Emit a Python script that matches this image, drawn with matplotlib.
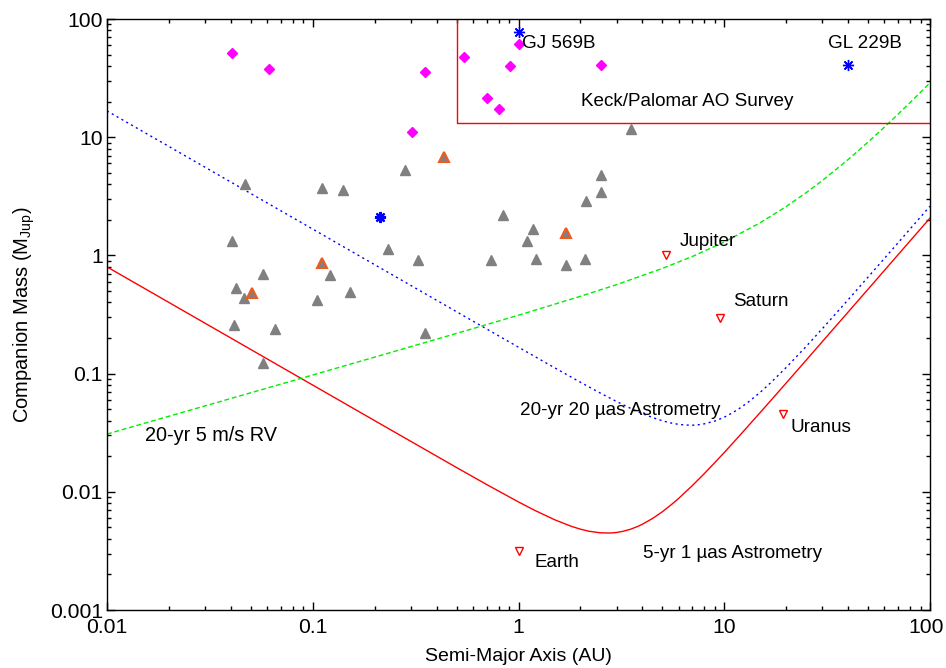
import matplotlib
matplotlib.use("Agg")
import matplotlib.pyplot as plt
from matplotlib.ticker import FixedLocator, FixedFormatter, LogLocator, NullFormatter
from matplotlib.transforms import ScaledTranslation

plt.rcParams["font.family"] = ["Liberation Sans", "DejaVu Sans"]
plt.rcParams["mathtext.fontset"] = "custom"
plt.rcParams["mathtext.rm"] = "Liberation Sans"
plt.rcParams["mathtext.it"] = "Liberation Sans:italic"

# ---- Known companions -------------------------------------------------
# Brown-dwarf companions (magenta diamonds)
bd_a = [0.0405, 0.061, 0.352, 0.303, 0.543, 0.705, 0.807, 0.906, 1.0, 2.52]
bd_m = [51.3, 38.0, 35.8, 11.1, 47.4, 21.5, 17.4, 40.0, 61.8, 41.0]

# RV planets (grey triangles)
rv_a = [3.52, 0.28, 2.52, 2.52, 2.13, 0.838, 1.17, 1.10, 0.232, 0.324,
        0.735, 1.21, 1.70, 2.10, 0.0469, 0.111, 0.141, 0.0405, 0.121,
        0.0575, 0.0423, 0.0465, 0.152, 0.105, 0.0414, 0.0658, 0.0575, 0.352]
rv_m = [11.8, 5.25, 4.77, 3.42, 2.9, 2.18, 1.68, 1.32, 1.13, 0.914,
        0.91, 0.93, 0.834, 0.93, 4.02, 3.72, 3.55, 1.32, 0.687,
        0.70, 0.533, 0.434, 0.49, 0.42, 0.256, 0.237, 0.123, 0.22]

# Planets in multiple systems (grey triangles with orange outline)
multi_a = [0.433, 0.111, 0.0505, 1.71]
multi_m = [6.8, 0.863, 0.478, 1.54]

# Imaged companions (blue asterisks)
star_a = [1.0, 40.0]
star_m = [77.0, 40.8]
star_names = ["GJ 569B", "GL 229B"]
close_a = [0.213]
close_m = [2.12]

# Solar-system planets
sol_names = ["Earth", "Jupiter", "Saturn", "Uranus"]
sol_a = [1.0, 5.2, 9.5, 19.2]
sol_m = [0.00315, 1.0, 0.295, 0.0455]

# AO survey region
ao_a = [0.5, 0.5, 100.0]
ao_m = [100.0, 13.3, 13.3]

# ---- Detection limits -------------------------------------------------
ast1_a = [0.01, 0.02, 0.05, 0.1, 0.2, 0.5, 0.7, 1.0, 1.2, 1.5, 1.8, 2.0,
          2.2, 2.5, 2.8, 3.0, 3.2, 3.5, 3.8, 4.0, 4.5, 5.0, 5.5, 6.0, 7.0,
          8.0, 9.0, 10.0, 12.0, 15.0, 17.0, 20.0, 25.0, 30.0, 40.0, 50.0,
          60.0, 70.0, 85.0, 100.0]
ast1_m = [0.8, 0.4, 0.16, 0.08, 0.04, 0.01605, 0.01153, 0.00821, 0.006965,
          0.0058, 0.005116, 0.00483, 0.004639, 0.0045, 0.004482, 0.00453,
          0.004622, 0.00482, 0.005098, 0.00532, 0.005975, 0.00678, 0.007724,
          0.00879, 0.0113, 0.01426, 0.01768, 0.0215, 0.03051, 0.0472,
          0.06037, 0.0833, 0.1299, 0.187, 0.3318, 0.518, 0.7462, 1.016,
          1.4975, 2.07]

ast20_a = [0.01, 0.02, 0.05, 0.1, 0.2, 0.5, 1.0, 1.5, 2.0, 2.5, 3.0, 3.5,
           4.0, 4.5, 5.0, 5.5, 6.0, 6.5, 7.0, 7.5, 8.0, 9.0, 10.0, 11.0,
           12.0, 13.0, 15.0, 17.0, 20.0, 25.0, 30.0, 40.0, 50.0, 60.0, 70.0,
           85.0, 100.0]
ast20_m = [16.7, 8.35, 3.34, 1.67, 0.835, 0.334, 0.1673, 0.1119, 0.0845,
           0.06843, 0.058, 0.05091, 0.0459, 0.0424, 0.0399, 0.03826, 0.0372,
           0.03672, 0.0366, 0.03694, 0.0376, 0.03969, 0.0428, 0.04676,
           0.0515, 0.05694, 0.0698, 0.08524, 0.1127, 0.1698, 0.2404, 0.4217,
           0.656, 0.9423, 1.281, 1.8892, 2.611]

rv5_a = [0.01, 0.02, 0.05, 0.1, 0.2, 0.5, 1.0, 2.0, 3.0, 5.0, 7.0, 10.0,
         15.0, 20.0, 25.0, 30.0, 40.0, 50.0, 60.0, 70.0, 85.0, 100.0]
rv5_m = [0.0308, 0.0436, 0.0689, 0.0974, 0.1379, 0.2189, 0.312, 0.451,
         0.5665, 0.7757, 0.980, 1.299, 1.896, 2.591, 3.394, 4.308, 6.473,
         9.10, 12.17, 15.69, 21.80, 28.9]

x_ticks = [0.01, 0.1, 1, 10, 100]
x_labels = ["0.01", "0.1", "1", "10", "100"]
y_ticks = [0.001, 0.01, 0.1, 1, 10, 100]
y_labels = ["0.001", "0.01", "0.1", "1", "10", "100"]

fig = plt.figure(figsize=(9.46, 6.68), dpi=100)
ax = fig.add_axes([0.1131, 0.0868, 0.8700, 0.8847])
ax.set_xscale("log")
ax.set_yscale("log")
ax.set_xlim(0.01, 100)
ax.set_ylim(0.001, 100)

# limit curves
ax.plot(ast1_a, ast1_m, color="#ff0000", lw=1.0)
ax.plot(ast20_a, ast20_m, color="#0000ff", lw=1.0, linestyle=(0, (1.5, 2.5)))
ax.plot(rv5_a, rv5_m, color="#00ee00", lw=1.0, linestyle=(0, (3.5, 2)))
ax.plot(ao_a, ao_m, color="#ff0000", lw=1.0)

# companions
ax.plot(rv_a, rv_m, linestyle="none", marker="^", ms=6.5, color="#808080",
        mec="#808080")
ax.plot(multi_a, multi_m, linestyle="none", marker="^", ms=7.5,
        color="#808080", mec="#f05a1e", mew=1.5)
ax.plot(bd_a, bd_m, linestyle="none", marker="D", ms=5, color="#ff00ff",
        mec="#ff00ff")
ax.plot(star_a, star_m, linestyle="none", marker=(8, 2, 0), ms=8,
        color="#0000ff", mec="#0000ff", mew=1.0)
ax.plot(close_a, close_m, linestyle="none", marker=(8, 2, 0), ms=8,
        color="#0000ff", mec="#0000ff", mew=1.6)
ax.plot(sol_a, sol_m, linestyle="none", marker="v", ms=6,
        mfc="none", mec="#ff0000", mew=1.0)

fs = 13.6
ax.text(1.04, 62.6, star_names[0], fontsize=fs, ha="left", va="center")
ax.text(48.3, 62.6, star_names[1], fontsize=fs, ha="center", va="center")
ax.text(6.59, 20.2, "Keck/Palomar AO Survey", fontsize=fs, ha="center",
        va="center")
ax.text(1.2, 0.0025, sol_names[0], fontsize=fs, ha="left", va="center")
ax.text(6.1, 1.30, sol_names[1], fontsize=fs, ha="left", va="center")
ax.text(11.0, 0.404, sol_names[2], fontsize=fs, ha="left", va="center")
ax.text(21.1, 0.0347, sol_names[3], fontsize=fs, ha="left", va="center")
ax.text(4.03, 0.00303, "5-yr 1 \u00b5as Astrometry", fontsize=fs,
        ha="left", va="center")
ax.text(1.02, 0.0492, "20-yr 20 \u00b5as Astrometry", fontsize=fs,
        ha="left", va="center")
ax.text(0.0153, 0.0297, "20-yr 5 m/s RV", fontsize=14.3, ha="left",
        va="center")

ax.xaxis.set_major_locator(FixedLocator(x_ticks))
ax.xaxis.set_major_formatter(FixedFormatter(x_labels))
ax.yaxis.set_major_locator(FixedLocator(y_ticks))
ax.yaxis.set_major_formatter(FixedFormatter(y_labels))
ax.xaxis.set_minor_locator(LogLocator(base=10, subs=range(2, 10)))
ax.yaxis.set_minor_locator(LogLocator(base=10, subs=range(2, 10)))
ax.xaxis.set_minor_formatter(NullFormatter())
ax.yaxis.set_minor_formatter(NullFormatter())
ax.tick_params(which="both", direction="in", top=True, right=True,
               labelsize=15.2, width=1.0, colors="black")
ax.tick_params(which="major", length=6)
ax.tick_params(axis="x", which="major", pad=6)
ax.tick_params(axis="y", which="major", pad=3)
ax.tick_params(which="minor", length=3)
for sp in ax.spines.values():
    sp.set_linewidth(1.0)

ax.set_xlabel("Semi-Major Axis (AU)", fontsize=14, labelpad=8)
ax.set_ylabel(r"Companion Mass (M$_{\mathrm{Jup}}$)", fontsize=14.5,
              labelpad=9)

# keep the last x tick label inside the canvas
fig.canvas.draw()
last = ax.get_xticklabels()[-1]
last.set_transform(last.get_transform()
                   + ScaledTranslation(-4 / 100, 0, fig.dpi_scale_trans))

fig.savefig("out.png", dpi=100, facecolor="white")
